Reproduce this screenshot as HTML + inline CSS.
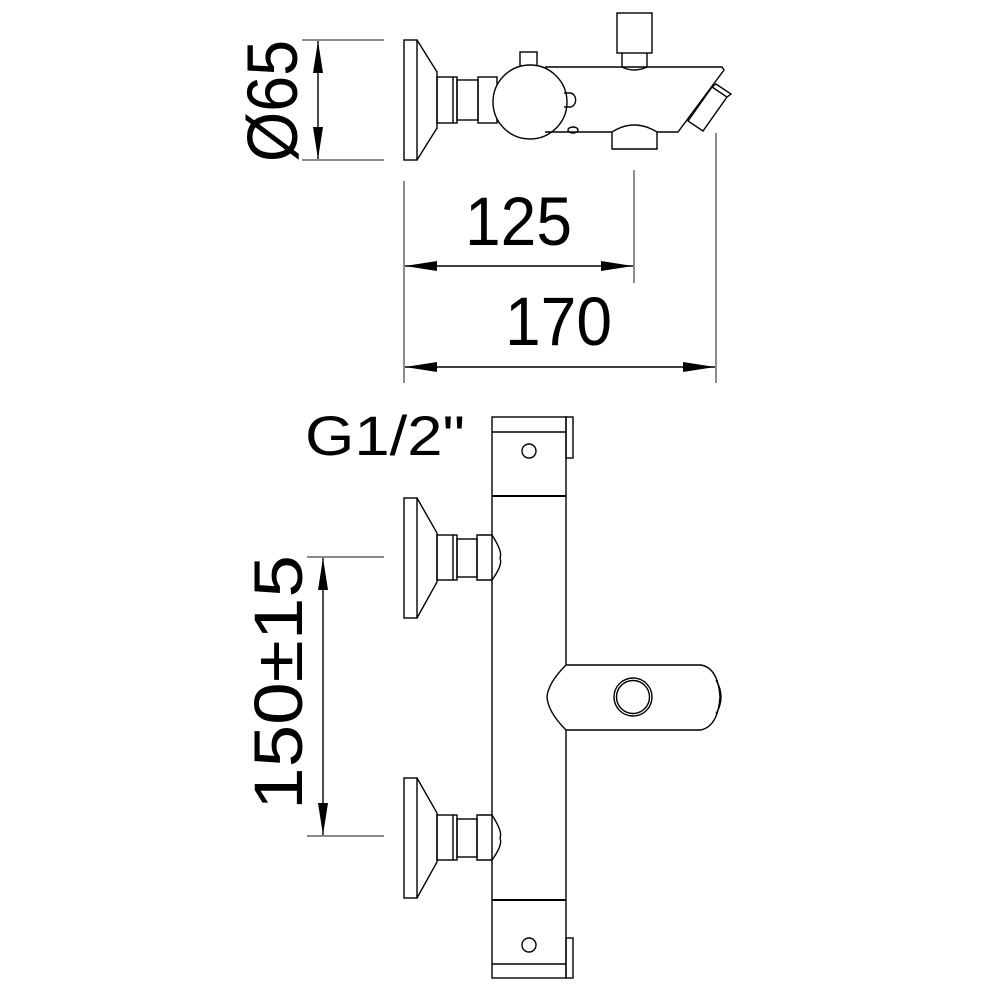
<!DOCTYPE html>
<html><head><meta charset="utf-8"><style>
html,body{margin:0;padding:0;background:#fff}
svg{display:block}
text{font-family:"Liberation Sans",Arial,sans-serif;fill:#000}
</style></head><body>
<svg width="1000" height="1000" viewBox="0 0 1000 1000" xmlns="http://www.w3.org/2000/svg">
<defs>
<marker id="a" viewBox="0 0 32 10" refX="32" refY="5" markerWidth="32" markerHeight="10" markerUnits="userSpaceOnUse" orient="auto-start-reverse"><path d="M0,0 L32,5 L0,10 Z" fill="#000"/></marker>
</defs>
<g fill="none" stroke="#000" stroke-width="1.4">
<g stroke="#444" stroke-width="1.2">
<line x1="302" y1="40" x2="384" y2="40"/><line x1="302" y1="160" x2="384" y2="160"/>
<line x1="404" y1="181" x2="404" y2="383"/><line x1="634" y1="170" x2="634" y2="283"/>
<line x1="716" y1="133" x2="716" y2="383"/>
<line x1="307" y1="557" x2="384" y2="557"/><line x1="307" y1="836" x2="384" y2="836"/>
</g>
<line x1="318" y1="41" x2="318" y2="159" marker-start="url(#a)" marker-end="url(#a)"/>
<line x1="405" y1="266" x2="633" y2="266" marker-start="url(#a)" marker-end="url(#a)"/>
<line x1="405" y1="367" x2="715" y2="367" marker-start="url(#a)" marker-end="url(#a)"/>
<line x1="323" y1="558" x2="323" y2="835" marker-start="url(#a)" marker-end="url(#a)"/>

<rect x="404" y="40" width="13" height="120"/>
<path d="M417,40 L437,72 L437,128 L417,160"/>
<rect x="437" y="77" width="20" height="46"/>
<line x1="453" y1="77" x2="453" y2="123"/>
<rect x="457" y="80" width="21" height="40"/>
<rect x="478" y="77" width="19" height="46"/>
<rect x="520" y="52" width="17" height="14"/>
<circle cx="530" cy="102" r="37" fill="#fff"/>
<path d="M564,93 L570,93 A4,5 0 0 1 570,107 L564,107"/>
<path d="M545,67 L722,67 L724,70 L678,132 L657,132"/>
<path d="M545,132 L612,132"/>
<path d="M612,149 L612,132 Q634,118 657,132 L657,149 Z"/>
<ellipse cx="573" cy="130" rx="5" ry="3"/>
<rect x="617" y="13" width="35" height="40"/>
<path d="M622,53 L622,67 Q634,73 647,67 L647,53"/>
<path d="M688,121 L712,87 L727,97 L703,131 Z"/>
<path d="M712,87 L716,84 L731,94 L727,97"/>
<rect x="492" y="417" width="74" height="561"/>
<line x1="492" y1="432" x2="566" y2="432"/>
<line x1="492" y1="496" x2="566" y2="496" stroke-width="2"/>
<line x1="492" y1="900" x2="566" y2="900" stroke-width="2"/>
<line x1="492" y1="964" x2="566" y2="964"/>
<rect x="566" y="417" width="7" height="41"/>
<rect x="566" y="938" width="7" height="40"/>
<circle cx="529" cy="451" r="7"/>
<circle cx="529" cy="945" r="7"/>
<g id="v">
<rect x="404" y="498" width="13" height="120"/>
<path d="M417,498 L437,533 L437,582 L417,618"/>
<rect x="437" y="535" width="20" height="45"/>
<line x1="453" y1="535" x2="453" y2="580"/>
<rect x="457" y="539" width="20" height="38"/>
<path d="M477,535 L492,535 Q503,552 500,558 Q503,565 492,580 L477,580 Z"/>
</g>
<use href="#v" transform="translate(0,280)"/>
<path d="M566,665 L701,665 Q718,668 720,697 Q718,726 701,730 L566,730 Q548,712 547,697 Q548,683 566,665 Z" fill="#fff"/>
<path d="M716,680 Q726,697 716,714"/>
<circle cx="633" cy="697" r="19"/>
<circle cx="633" cy="697" r="16.5"/>
</g>
<text x="465" y="245" font-size="69" textLength="107" lengthAdjust="spacingAndGlyphs">125</text>
<text x="505" y="345" font-size="69" textLength="107" lengthAdjust="spacingAndGlyphs">170</text>
<text x="305" y="455" font-size="56" textLength="160" lengthAdjust="spacingAndGlyphs">G1/2"</text>
<text transform="translate(297,162) rotate(-90)" font-size="71" textLength="122" lengthAdjust="spacingAndGlyphs">Ø65</text>
<text transform="translate(302,810) rotate(-90)" font-size="69" textLength="255" lengthAdjust="spacingAndGlyphs">150±15</text>
</svg>
</body></html>
